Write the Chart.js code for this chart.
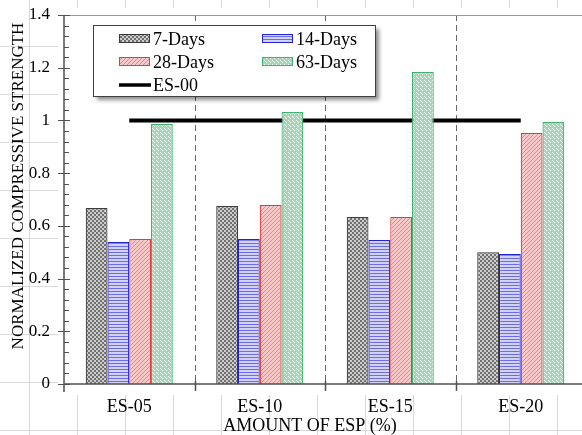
<!DOCTYPE html>
<html>
<head>
<meta charset="utf-8">
<style>
  html, body { margin: 0; padding: 0; background: #fff; overflow: hidden; }
  #wrap { width: 590px; height: 435px; }
</style>
<script src="https://cdn.jsdelivr.net/npm/chart.js@4.4.0/dist/chart.umd.min.js"></script>
</head>
<body>
<div id="wrap"><canvas id="strengthChart" width="590" height="435"></canvas></div>
<script>
// Data
const categories = ['ES-05', 'ES-10', 'ES-15', 'ES-20'];
const days7  = [0.668, 0.675, 0.634, 0.500];
const days14 = [0.539, 0.550, 0.546, 0.493];
const days28 = [0.550, 0.679, 0.634, 0.952];
const days63 = [0.986, 1.032, 1.184, 0.994];
const es00   = [1, 1, 1, 1];
const yTicks = [0, 0.2, 0.4, 0.6, 0.8, 1, 1.2, 1.4];

const SERIF = '"Liberation Serif", "Times New Roman", serif';

// small tiled fills for the hatched bars
function makePattern(size, bg, draw) {
    const c = document.createElement('canvas');
    c.width = size; c.height = size;
    const p = c.getContext('2d');
    p.fillStyle = bg;
    p.fillRect(0, 0, size, size);
    draw(p);
    return document.getElementById('strengthChart').getContext('2d').createPattern(c, 'repeat');
}

const grayFill = makePattern(4, '#cdcdcd', p => {
    p.fillStyle = '#707070';
    p.fillRect(0, 0, 2, 2);
    p.fillRect(2, 2, 2, 2);
});
const blueFill = makePattern(3, '#d2d2f6', p => {
    p.fillStyle = '#6d6de6';
    p.fillRect(0, 0, 3, 1);
});
const redFill = makePattern(4, '#f8c8c8', p => {
    p.fillStyle = '#e58a8a';
    for (let i = 0; i < 4; i++) p.fillRect(i, 3 - i, 1, 1);
});
const greenFill = makePattern(4, '#9fdab4', p => {
    p.fillStyle = '#ffffff';
    p.fillRect(0, 0, 1, 1);
    p.fillRect(2, 2, 1, 1);
    p.fillRect(1, 1, 1, 1);
});

// spreadsheet cells behind the chart, white plot panel on top
const backdrop = {
    id: 'backdrop',
    beforeDraw(chart) {
        const ctx = chart.ctx;
        const a = chart.chartArea;
        ctx.save();
        ctx.fillStyle = '#fff';
        ctx.fillRect(0, 0, chart.width, chart.height);
        ctx.strokeStyle = '#d9d9d9';
        ctx.lineWidth = 1;
        ctx.beginPath();
        for (let x = 29.5; x < chart.width; x += 48) { ctx.moveTo(x, 0); ctx.lineTo(x, chart.height); }
        for (let y = -1.5; y < chart.height; y += 48) { ctx.moveTo(0, y); ctx.lineTo(chart.width, y); }
        ctx.stroke();
        ctx.fillStyle = '#fff';
        ctx.fillRect(a.left - 6, a.top - 7, chart.width, a.bottom - a.top + 18);
        ctx.restore();
    }
};

// axes, tick marks, separators, titles and legend
const decorations = {
    id: 'decorations',
    beforeDatasetsDraw(chart) {
        const ctx = chart.ctx;
        const a = chart.chartArea;
        const step = (a.right - a.left) / categories.length;
        ctx.save();
        ctx.strokeStyle = '#666';
        ctx.lineWidth = 1;
        ctx.setLineDash([6, 4]);
        ctx.beginPath();
        for (let i = 1; i < categories.length; i++) {
            const x = Math.round(a.left + i * step) + 0.5;
            ctx.moveTo(x, a.top);
            ctx.lineTo(x, a.bottom);
        }
        ctx.stroke();
        ctx.setLineDash([]);
        // top border of plot area
        ctx.strokeStyle = '#9a9a9a';
        ctx.beginPath();
        ctx.moveTo(a.left, a.top + 0.5);
        ctx.lineTo(a.right, a.top + 0.5);
        ctx.stroke();
        ctx.restore();
    },
    afterDraw(chart) {
        const ctx = chart.ctx;
        const a = chart.chartArea;
        const ys = chart.scales.y;
        const step = (a.right - a.left) / categories.length;
        ctx.save();

        // axis lines
        ctx.strokeStyle = '#505050';
        ctx.lineWidth = 1.5;
        ctx.beginPath();
        ctx.moveTo(a.left, a.top);
        ctx.lineTo(a.left, a.bottom + 8);
        ctx.moveTo(a.left, a.bottom);
        ctx.lineTo(a.right, a.bottom);
        for (let i = 1; i < categories.length; i++) {
            const x = Math.round(a.left + i * step) + 0.5;
            ctx.moveTo(x, a.bottom - 3);
            ctx.lineTo(x, a.bottom + 7);
        }
        ctx.stroke();

        // y ticks: major crossing, minor inside
        ctx.lineWidth = 1;
        ctx.beginPath();
        yTicks.forEach(v => {
            const y = Math.round(ys.getPixelForValue(v)) + 0.5;
            ctx.moveTo(a.left - 6, y);
            ctx.lineTo(a.left + 6, y);
        });
        for (let k = 0; k < yTicks.length - 1; k++) {
            for (let m = 1; m < 5; m++) {
                const v = yTicks[k] + (yTicks[k + 1] - yTicks[k]) * m / 5;
                const y = Math.round(ys.getPixelForValue(v)) + 0.5;
                ctx.moveTo(a.left, y);
                ctx.lineTo(a.left + 5, y);
            }
        }
        ctx.stroke();

        // axis titles
        ctx.fillStyle = '#000';
        ctx.font = '18px ' + SERIF;
        ctx.textAlign = 'center';
        ctx.textBaseline = 'alphabetic';
        ctx.fillText('AMOUNT OF ESP (%)', 310, 431);
        ctx.save();
        ctx.translate(18.5, 186);
        ctx.rotate(-Math.PI / 2);
        ctx.font = '17px ' + SERIF;
        ctx.textBaseline = 'middle';
        ctx.fillText('NORMALIZED COMPRESSIVE STRENGTH', 0, 0);
        ctx.restore();

        // legend box
        const bx = 93.5, by = 25.5, bw = 282, bh = 71;
        ctx.save();
        ctx.shadowColor = 'rgba(0,0,0,0.45)';
        ctx.shadowBlur = 4;
        ctx.shadowOffsetX = 3;
        ctx.shadowOffsetY = 3;
        ctx.fillStyle = '#fff';
        ctx.fillRect(bx, by, bw, bh);
        ctx.restore();
        ctx.strokeStyle = '#404040';
        ctx.lineWidth = 1;
        ctx.strokeRect(bx, by, bw, bh);

        const cols = [119, 262];
        const rows = [39, 62, 85];
        ctx.font = '18px ' + SERIF;
        ctx.textAlign = 'left';
        ctx.textBaseline = 'middle';
        chart.data.datasets.forEach((ds, i) => {
            const x = cols[i % 2];
            const y = rows[Math.floor(i / 2)];
            if (ds.type === 'line') {
                ctx.strokeStyle = ds.borderColor;
                ctx.lineWidth = 3.5;
                ctx.beginPath();
                ctx.moveTo(x, y);
                ctx.lineTo(x + 32, y);
                ctx.stroke();
            } else {
                ctx.fillStyle = ds.backgroundColor;
                ctx.fillRect(x, y - 5, 31, 9);
                ctx.strokeStyle = ds.borderColor;
                ctx.lineWidth = 1;
                ctx.strokeRect(x + 0.5, y - 4.5, 30, 8);
            }
            ctx.fillStyle = '#000';
            ctx.fillText(ds.label, x + 34, y + 1);
        });
        ctx.restore();
    }
};

const barStyle = { borderWidth: 1.2, borderSkipped: 'start' };

new Chart(document.getElementById('strengthChart'), {
    data: {
        labels: categories,
        datasets: [
            { type: 'bar', label: '7-Days', data: days7, backgroundColor: grayFill, borderColor: '#3c3c3c', ...barStyle },
            { type: 'bar', label: '14-Days', data: days14, backgroundColor: blueFill, borderColor: '#2323d6', ...barStyle },
            { type: 'bar', label: '28-Days', data: days28, backgroundColor: redFill, borderColor: '#e43a3a', ...barStyle },
            { type: 'bar', label: '63-Days', data: days63, backgroundColor: greenFill, borderColor: '#3fb46c', ...barStyle },
            { type: 'line', label: 'ES-00', data: es00, borderColor: '#000', borderWidth: 4, pointRadius: 0, fill: false }
        ]
    },
    options: {
        responsive: false,
        animation: false,
        layout: { padding: { top: 15, right: 4, left: 0, bottom: 0 } },
        datasets: { bar: { categoryPercentage: 0.667, barPercentage: 1.0 } },
        scales: {
            x: {
                offset: true,
                grid: { display: false, drawTicks: false },
                border: { display: false },
                ticks: { color: '#000', font: { family: SERIF, size: 18 }, padding: 12, maxRotation: 0 },
                afterFit: s => { s.height = 51; s.paddingLeft = 0; s.paddingRight = 0; }
            },
            y: {
                min: 0,
                max: 1.4,
                grid: { display: false, drawTicks: false },
                border: { display: false },
                afterBuildTicks: s => { s.ticks = yTicks.map(v => ({ value: v })); },
                ticks: {
                    color: '#000',
                    font: { family: SERIF, size: 17 },
                    padding: 14,
                    callback: v => String(+v.toFixed(1))
                },
                afterFit: s => { s.width = 64; s.paddingTop = 0; s.paddingBottom = 0; }
            }
        },
        plugins: {
            legend: { display: false },
            tooltip: { enabled: false }
        }
    },
    plugins: [backdrop, decorations]
});
</script>
</body>
</html>
